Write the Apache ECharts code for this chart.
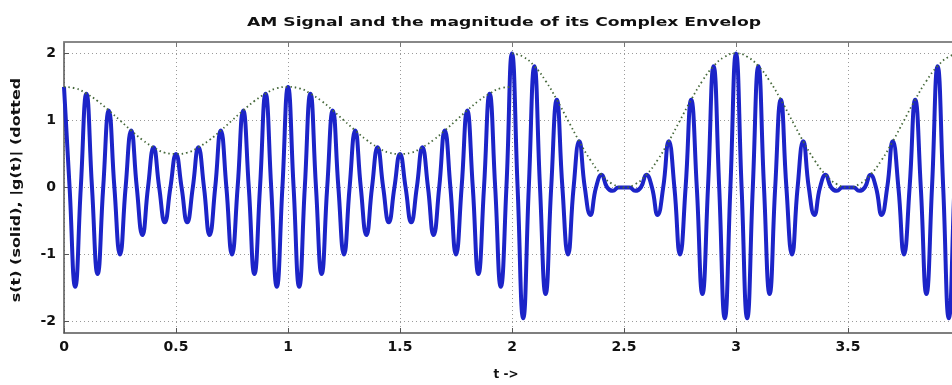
<!DOCTYPE html>
<html><head><meta charset="utf-8">
<script src="https://cdn.jsdelivr.net/npm/echarts@6/dist/echarts.min.js"></script>
<style>html,body{margin:0;padding:0;background:#fff}#c{width:952px;height:385px}</style>
</head><body><div id="c"></div>
<script>
const titleText = 'AM Signal and the magnitude of its Complex Envelop';
const xLabel = 't ->';
const yLabel = 's(t) (solid), |g(t)| (dotted';
const xTicks = [0, 0.5, 1, 1.5, 2, 2.5, 3, 3.5, 4];
const yTicks = [-2, -1, 0, 1, 2];

// s(t) sampled every 0.025 s (t = 0 .. 4)
const signalStep = 0.025;
const signal = [
  1.5,0,-1.48,0,1.40,0,-1.29,0,1.15,0,-1.0,0,0.85,0,-0.71,0,0.60,0,-0.52,0,
  0.5,0,-0.52,0,0.60,0,-0.71,0,0.85,0,-1.0,0,1.15,0,-1.29,0,1.40,0,-1.48,0,
  1.5,0,-1.48,0,1.40,0,-1.29,0,1.15,0,-1.0,0,0.85,0,-0.71,0,0.60,0,-0.52,0,
  0.5,0,-0.52,0,0.60,0,-0.71,0,0.85,0,-1.0,0,1.15,0,-1.29,0,1.40,0,-1.48,0,
  2.0,0,-1.95,0,1.81,0,-1.59,0,1.31,0,-1.0,0,0.69,0,-0.41,0,0.19,0,-0.05,0,
  0,0,-0.05,0,0.19,0,-0.41,0,0.69,0,-1.0,0,1.31,0,-1.59,0,1.81,0,-1.95,0,
  2.0,0,-1.95,0,1.81,0,-1.59,0,1.31,0,-1.0,0,0.69,0,-0.41,0,0.19,0,-0.05,0,
  0,0,-0.05,0,0.19,0,-0.41,0,0.69,0,-1.0,0,1.31,0,-1.59,0,1.81,0,-1.95,0,
  2.0
];

// |g(t)| sampled every 0.05 s
const envStep = 0.05;
const envelopeA = [ // t = 0 .. 2
  1.5,1.48,1.40,1.29,1.15,1.0,0.85,0.71,0.60,0.52,0.5,0.52,0.60,0.71,0.85,1.0,1.15,1.29,1.40,1.48,
  1.5,1.48,1.40,1.29,1.15,1.0,0.85,0.71,0.60,0.52,0.5,0.52,0.60,0.71,0.85,1.0,1.15,1.29,1.40,1.48,
  1.5
];
const envelopeB = [ // t = 2 .. 4
  2.0,1.95,1.81,1.59,1.31,1.0,0.69,0.41,0.19,0.05,0,0.05,0.19,0.41,0.69,1.0,1.31,1.59,1.81,1.95,
  2.0,1.95,1.81,1.59,1.31,1.0,0.69,0.41,0.19,0.05,0,0.05,0.19,0.41,0.69,1.0,1.31,1.59,1.81,1.95,
  2.0
];
const envelopeBStart = 2;

const font = 'DejaVu Sans';
const chart = echarts.init(document.getElementById('c'), null, {renderer: 'canvas'});
const gridLine = {show: true, lineStyle: {color: '#9a9a9a', type: [1, 3], width: 1}};
const envStyle = {color: '#45683a', width: 1.8, type: [1.5, 3]};
chart.setOption({
  animation: false,
  backgroundColor: '#ffffff',
  graphic: [{
    type: 'text', x: 504, y: 23, scaleX: 1.32, z: 10,
    style: {text: titleText, font: 'bold 13px "DejaVu Sans"', fill: '#111', align: 'center', verticalAlign: 'middle'}
  }, {
    type: 'text', x: 17, y: 190, rotation: Math.PI / 2, scaleX: 1.33, z: 10,
    style: {text: yLabel, font: 'bold 12px "DejaVu Sans"', fill: '#111', align: 'center', verticalAlign: 'middle'}
  }],
  grid: {left: 64, top: 42, width: 896, bottom: 52, containLabel: false, outerBoundsMode: 'none'},
  xAxis: [{
    type: 'value', min: 0, max: 4, interval: 0.5,
    name: xLabel, nameLocation: 'middle', nameGap: 36,
    nameTextStyle: {fontFamily: font, fontWeight: 'bold', fontSize: 12, color: '#111', padding: [0, 12, 0, 0]},
    axisLine: {show: true, onZero: false, lineStyle: {color: '#555', width: 1.5}},
    axisTick: {show: true, inside: true, length: 5, lineStyle: {color: '#555'}},
    axisLabel: {fontFamily: font, fontWeight: 'bold', fontSize: 14, color: '#111', margin: 7,
      formatter: v => String(v)},
    splitLine: gridLine
  }, {
    type: 'value', min: 0, max: 4, interval: 0.5, position: 'top',
    axisLine: {show: true, onZero: false, lineStyle: {color: '#888', width: 2}},
    axisTick: {show: true, inside: true, length: 5, lineStyle: {color: '#777'}},
    axisLabel: {show: false}, splitLine: {show: false}
  }],
  yAxis: [{
    type: 'value', min: -2.17, max: 2.17,
    axisLine: {show: true, onZero: false, lineStyle: {color: '#555', width: 1.5}},
    axisTick: {show: true, inside: true, length: 5, customValues: yTicks, lineStyle: {color: '#555'}},
    axisLabel: {customValues: yTicks, fontFamily: font, fontWeight: 'bold', fontSize: 14, color: '#111', margin: 8},
    splitLine: gridLine
  }],
  series: [{
    name: 's(t)', type: 'line', xAxisIndex: 0, showSymbol: false, smooth: true,
    data: signal.map((v, i) => [i * signalStep, v]),
    lineStyle: {color: '#1c24c8', width: 4}, z: 2
  }, {
    name: '|g(t)| A', type: 'line', xAxisIndex: 0, showSymbol: false, smooth: true,
    data: envelopeA.map((v, i) => [i * envStep, v]),
    lineStyle: envStyle, z: 3
  }, {
    name: '|g(t)| B', type: 'line', xAxisIndex: 0, showSymbol: false, smooth: true,
    data: envelopeB.map((v, i) => [envelopeBStart + i * envStep, v]),
    lineStyle: envStyle, z: 3
  }]
});
</script></body></html>
